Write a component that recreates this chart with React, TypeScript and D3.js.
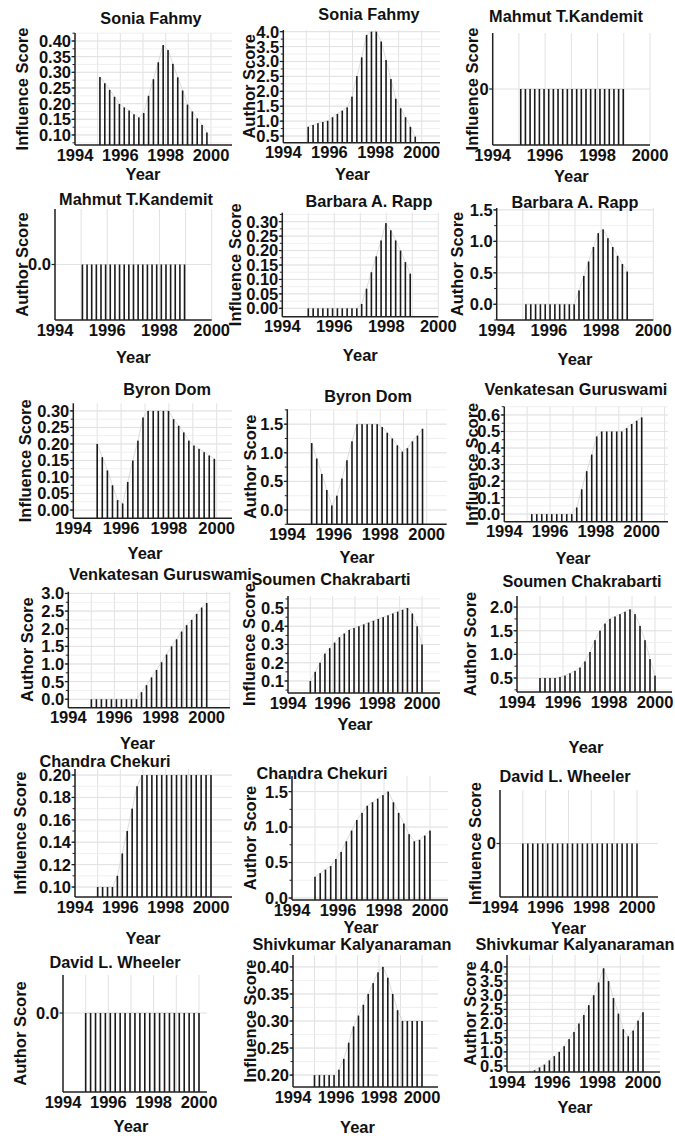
import * as d3 from "d3";

// bar values (one array per panel)
const soniaInfluence = [0.285, 0.265, 0.244, 0.222, 0.199, 0.188, 0.178, 0.166, 0.156, 0.17, 0.225, 0.278, 0.332, 0.387, 0.371, 0.327, 0.284, 0.242, 0.197, 0.175, 0.153, 0.132, 0.108];
const soniaAuthor = [0.81, 0.87, 0.93, 0.97, 1.01, 1.13, 1.24, 1.35, 1.46, 1.82, 2.51, 3.14, 3.89, 4.0, 4.0, 3.67, 3.05, 2.41, 1.75, 1.43, 1.13, 0.81, 0.48];
const mahmutInfluence = [0, 0, 0, 0, 0, 0, 0, 0, 0, 0, 0, 0, 0, 0, 0, 0, 0, 0, 0, 0, 0, 0, 0];
const mahmutAuthor = [0, 0, 0, 0, 0, 0, 0, 0, 0, 0, 0, 0, 0, 0, 0, 0, 0, 0, 0, 0, 0, 0, 0];
const barbaraInfluence = [0, 0, 0, 0, 0, 0, 0, 0, 0, 0, 0, 0.015, 0.068, 0.125, 0.18, 0.235, 0.295, 0.27, 0.235, 0.2, 0.16, 0.12];
const barbaraAuthor = [0, 0, 0, 0, 0, 0, 0, 0, 0, 0, 0, 0.22, 0.45, 0.68, 0.91, 1.13, 1.19, 1.05, 0.91, 0.77, 0.64, 0.52];
const byronInfluence = [0.2, 0.16, 0.12, 0.075, 0.03, 0.02, 0.085, 0.15, 0.21, 0.28, 0.3, 0.3, 0.3, 0.3, 0.3, 0.275, 0.255, 0.235, 0.21, 0.195, 0.185, 0.175, 0.165, 0.155];
const byronAuthor = [1.17, 0.9, 0.63, 0.35, 0.08, 0.25, 0.55, 0.87, 1.2, 1.5, 1.5, 1.5, 1.5, 1.5, 1.45, 1.35, 1.25, 1.13, 1.02, 1.08, 1.2, 1.3, 1.42];
const venkatInfluence = [0, 0, 0, 0, 0, 0, 0, 0, 0, 0.04, 0.15, 0.26, 0.36, 0.47, 0.5, 0.5, 0.5, 0.5, 0.5, 0.52, 0.545, 0.565, 0.585];
const venkatAuthor = [0, 0, 0, 0, 0, 0, 0, 0, 0, 0, 0.2, 0.4, 0.62, 0.83, 1.05, 1.27, 1.5, 1.7, 1.92, 2.1, 2.25, 2.42, 2.6, 2.73];
const soumenInfluence = [0.1, 0.15, 0.2, 0.25, 0.28, 0.31, 0.34, 0.36, 0.38, 0.39, 0.4, 0.41, 0.42, 0.43, 0.44, 0.45, 0.46, 0.47, 0.48, 0.49, 0.5, 0.47, 0.4, 0.3];
const soumenAuthor = [0.5, 0.5, 0.5, 0.5, 0.52, 0.55, 0.6, 0.65, 0.72, 0.85, 1.05, 1.3, 1.5, 1.65, 1.75, 1.8, 1.85, 1.9, 1.95, 1.85, 1.6, 1.3, 0.9, 0.55];
const chandraInfluence = [0.1, 0.1, 0.1, 0.1, 0.11, 0.13, 0.15, 0.17, 0.19, 0.2, 0.2, 0.2, 0.2, 0.2, 0.2, 0.2, 0.2, 0.2, 0.2, 0.2, 0.2, 0.2, 0.2, 0.2];
const chandraAuthor = [0.3, 0.35, 0.4, 0.45, 0.55, 0.65, 0.8, 0.95, 1.1, 1.2, 1.3, 1.35, 1.4, 1.45, 1.5, 1.35, 1.2, 1.05, 0.9, 0.8, 0.82, 0.88, 0.95];
const davidInfluence = [0, 0, 0, 0, 0, 0, 0, 0, 0, 0, 0, 0, 0, 0, 0, 0, 0, 0, 0, 0, 0, 0, 0, 0];
const davidAuthor = [0, 0, 0, 0, 0, 0, 0, 0, 0, 0, 0, 0, 0, 0, 0, 0, 0, 0, 0, 0, 0, 0, 0, 0];
const shivInfluence = [0.2, 0.2, 0.2, 0.2, 0.2, 0.21, 0.23, 0.26, 0.29, 0.31, 0.33, 0.35, 0.37, 0.39, 0.4, 0.38, 0.35, 0.32, 0.3, 0.3, 0.3, 0.3, 0.3];
const shivAuthor = [0.3, 0.35, 0.45, 0.55, 0.7, 0.85, 1.0, 1.2, 1.45, 1.7, 2.0, 2.3, 2.65, 3.0, 3.45, 3.95, 3.5, 2.9, 2.35, 1.8, 1.55, 1.75, 2.1, 2.4];

const yearTicks = [1994, 1996, 1998, 2000];

interface Panel {
    title: string,
    yLabel: string,
    values: number[],
    span: [number, number],      // first / last bar year
    box: { left: number, x2000: number, right: number, top: number, bottom: number },
    yDomain: [number, number],
    yTicks: number[],
    yMinor: number[],
    fmt: string,
    titlePos: [number, number],
    yLabelX: number,
    yearY: number,
}

const rng = (a: number, b: number, s: number) => d3.range(0, Math.round((b - a) / s) + 1).map(i => +(a + i * s).toFixed(4));

const panels: Panel[] = [
    { title: "Sonia Fahmy", yLabel: "Influence Score", values: soniaInfluence, span: [1995.1, 1999.82],
      box: { left: 75, x2000: 211, right: 232, top: 33, bottom: 145 }, yDomain: [0.068, 0.4255],
      yTicks: rng(0.1, 0.4, 0.05), yMinor: rng(0.075, 0.425, 0.025), fmt: ".2f", titlePos: [151, 24], yLabelX: 22, yearY: 180 },
    { title: "Sonia Fahmy", yLabel: "Author Score", values: soniaAuthor, span: [1995.08, 1999.72],
      box: { left: 283.3, x2000: 421.7, right: 440, top: 30, bottom: 142.7 }, yDomain: [0.276, 4.056],
      yTicks: rng(0.5, 4, 0.5), yMinor: rng(0.5, 4, 0.25), fmt: ".1f", titlePos: [369, 20], yLabelX: 249, yearY: 180 },
    { title: "Mahmut T.Kandemit", yLabel: "Influence Score", values: mahmutInfluence, span: [1995.07, 1998.98],
      box: { left: 492.7, x2000: 650, right: 650, top: 33, bottom: 145 }, yDomain: [-1, 1],
      yTicks: [0], yMinor: [], fmt: "d", titlePos: [566, 22], yLabelX: 472, yearY: 182 },
    { title: "Mahmut T.Kandemit", yLabel: "Author Score", values: mahmutAuthor, span: [1995.05, 1998.96],
      box: { left: 55, x2000: 211.7, right: 211.7, top: 209, bottom: 320 }, yDomain: [-1, 1],
      yTicks: [0], yMinor: [], fmt: ".1f", titlePos: [136, 205], yLabelX: 22, yearY: 363 },
    { title: "Barbara A. Rapp", yLabel: "Influence Score", values: barbaraInfluence, span: [1995.0, 1998.92],
      box: { left: 282.3, x2000: 438.3, right: 438.3, top: 212.7, bottom: 316.7 }, yDomain: [-0.029, 0.331],
      yTicks: rng(0, 0.3, 0.05), yMinor: rng(0, 0.325, 0.025), fmt: ".2f", titlePos: [369, 207], yLabelX: 235.5, yearY: 361 },
    { title: "Barbara A. Rapp", yLabel: "Author Score", values: barbaraAuthor, span: [1995.12, 1999.0],
      box: { left: 496.7, x2000: 653.3, right: 653.3, top: 208, bottom: 320 }, yDomain: [-0.25, 1.53],
      yTicks: rng(0, 1.5, 0.5), yMinor: rng(-0.25, 1.5, 0.25), fmt: ".1f", titlePos: [575, 208], yLabelX: 457.5, yearY: 365 },
    { title: "Byron Dom", yLabel: "Influence Score", values: byronInfluence, span: [1995.0, 1999.9],
      box: { left: 73.3, x2000: 216.7, right: 232, top: 403.3, bottom: 518.3 }, yDomain: [-0.025, 0.323],
      yTicks: rng(0, 0.3, 0.05), yMinor: rng(0, 0.3, 0.025), fmt: ".2f", titlePos: [167, 395], yLabelX: 25, yearY: 559 },
    { title: "Byron Dom", yLabel: "Author Score", values: byronAuthor, span: [1995.05, 1999.82],
      box: { left: 287.3, x2000: 426.7, right: 446.7, top: 409.3, bottom: 524.3 }, yDomain: [-0.25, 1.76],
      yTicks: rng(0, 1.5, 0.5), yMinor: rng(-0.25, 1.75, 0.25), fmt: ".1f", titlePos: [368, 401.7], yLabelX: 250, yearY: 563 },
    { title: "Venkatesan Guruswami", yLabel: "Influence Score", values: venkatInfluence, span: [1995.2, 2000.0],
      box: { left: 504.3, x2000: 641.7, right: 668, top: 406.7, bottom: 521.7 }, yDomain: [-0.046, 0.65],
      yTicks: rng(0, 0.6, 0.1), yMinor: rng(0, 0.65, 0.05), fmt: ".1f", titlePos: [576, 395], yLabelX: 472, yearY: 564 },
    { title: "Venkatesan Guruswami", yLabel: "Author Score", values: venkatAuthor, span: [1995.0, 2000.0],
      box: { left: 68.3, x2000: 206.7, right: 230, top: 591.7, bottom: 707.7 }, yDomain: [-0.24, 3.05],
      yTicks: rng(0, 3, 0.5), yMinor: rng(0, 3, 0.25), fmt: ".1f", titlePos: [160.5, 580], yLabelX: 27.5, yearY: 749 },
    { title: "Soumen Chakrabarti", yLabel: "Influence Score", values: soumenInfluence, span: [1995.0, 2000.0],
      box: { left: 288, x2000: 422, right: 440, top: 596, bottom: 693 }, yDomain: [0.034, 0.566],
      yTicks: rng(0.1, 0.5, 0.1), yMinor: rng(0.05, 0.55, 0.05), fmt: ".1f", titlePos: [331, 585], yLabelX: 249, yearY: 730 },
    { title: "Soumen Chakrabarti", yLabel: "Author Score", values: soumenAuthor, span: [1995.0, 2000.0],
      box: { left: 517, x2000: 655, right: 672, top: 596, bottom: 692 }, yDomain: [0.204, 2.234],
      yTicks: rng(0.5, 2, 0.5), yMinor: rng(0.25, 2.25, 0.25), fmt: ".1f", titlePos: [582, 587], yLabelX: 470, yearY: 753 },
    { title: "Chandra Chekuri", yLabel: "Influence Score", values: chandraInfluence, span: [1995.0, 2000.0],
      box: { left: 75, x2000: 211, right: 232, top: 769, bottom: 897 }, yDomain: [0.0911, 0.2054],
      yTicks: rng(0.1, 0.2, 0.02), yMinor: rng(0.1, 0.2, 0.01), fmt: ".2f", titlePos: [105, 767], yLabelX: 20, yearY: 944 },
    { title: "Chandra Chekuri", yLabel: "Author Score", values: chandraAuthor, span: [1995.0, 2000.0],
      box: { left: 292, x2000: 430, right: 448, top: 776, bottom: 900 }, yDomain: [-0.028, 1.72],
      yTicks: rng(0, 1.5, 0.5), yMinor: rng(0, 1.5, 0.25), fmt: ".1f", titlePos: [322, 779], yLabelX: 250, yearY: 933 },
    { title: "David L. Wheeler", yLabel: "Influence Score", values: davidInfluence, span: [1995.0, 2000.0],
      box: { left: 500, x2000: 637, right: 658, top: 790, bottom: 897 }, yDomain: [-1, 1],
      yTicks: [0], yMinor: [], fmt: "d", titlePos: [565, 782], yLabelX: 475, yearY: 934 },
    { title: "David L. Wheeler", yLabel: "Author Score", values: davidAuthor, span: [1995.0, 2000.0],
      box: { left: 63, x2000: 199, right: 207, top: 975, bottom: 1092 }, yDomain: [-1.35, 0.65],
      yTicks: [0], yMinor: [], fmt: ".1f", titlePos: [115, 968], yLabelX: 20, yearY: 1132 },
    { title: "Shivkumar Kalyanaraman", yLabel: "Influence Score", values: shivInfluence, span: [1995.0, 2000.0],
      box: { left: 293, x2000: 422, right: 438, top: 955, bottom: 1087 }, yDomain: [0.178, 0.422],
      yTicks: rng(0.2, 0.4, 0.05), yMinor: rng(0.2, 0.4, 0.025), fmt: ".2f", titlePos: [352, 950], yLabelX: 250, yearY: 1133 },
    { title: "Shivkumar Kalyanaraman", yLabel: "Author Score", values: shivAuthor, span: [1995.0, 2000.0],
      box: { left: 507, x2000: 643, right: 660, top: 955, bottom: 1072 }, yDomain: [0.29, 4.42],
      yTicks: rng(0.5, 4, 0.5), yMinor: rng(0.5, 4, 0.25), fmt: ".1f", titlePos: [575, 950], yLabelX: 470, yearY: 1113 },
];

const font = "'Liberation Sans', Arial, Helvetica, sans-serif";

const PanelChart = ({ p }: { p: Panel }) => {
    const { left, x2000, right, top, bottom } = p.box;
    const x = d3.scaleLinear().domain([1994, 2000]).range([left, x2000]);
    const y = d3.scaleLinear().domain(p.yDomain).range([bottom, top]);
    const xEnd = x.invert(right);
    const years = d3.range(1994, Math.floor(xEnd + 1e-6) + 1);
    const step = (p.span[1] - p.span[0]) / (p.values.length - 1);
    const pts = p.values.map((v, i) => ({ t: p.span[0] + i * step, v }));
    const fmt = d3.format(p.fmt);
    const tops = d3.line<{ t: number, v: number }>().x(d => x(d.t)).y(d => y(Math.min(d.v, p.yDomain[1])));
    const inside = (v: number) => y(v) >= top - 0.5 && y(v) <= bottom + 0.5;

    return (
        <g>
            {/* grid */}
            {years.map(yr => (
                <line key={"gx" + yr} x1={x(yr)} x2={x(yr)} y1={top} y2={bottom} stroke="#e2e2e2" strokeWidth={1} />
            ))}
            {p.yMinor.filter(inside).map(v => (
                <line key={"gm" + v} x1={left} x2={right} y1={y(v)} y2={y(v)} stroke="#ececec" strokeWidth={0.8} />
            ))}
            {p.yTicks.map(v => (
                <line key={"gy" + v} x1={left} x2={right} y1={y(v)} y2={y(v)} stroke="#e2e2e2" strokeWidth={1} />
            ))}
            {/* faint line over bar tops */}
            <path d={tops(pts) ?? ""} fill="none" stroke="#cfcfcf" strokeWidth={0.7} />
            {/* bars */}
            {pts.map((d, i) => (
                <rect key={i} x={x(d.t) - 0.8} width={1.6} y={y(Math.min(d.v, p.yDomain[1]))}
                      height={bottom - y(Math.min(d.v, p.yDomain[1]))} fill="#1a1a1a" />
            ))}
            {/* axes */}
            <line x1={left} x2={left} y1={top} y2={bottom} stroke="#222" strokeWidth={1.5} />
            <line x1={left} x2={right} y1={bottom} y2={bottom} stroke="#222" strokeWidth={1.5} />
            {p.yMinor.filter(inside).map(v => (
                <line key={"tm" + v} x1={left - 2.5} x2={left} y1={y(v)} y2={y(v)} stroke="#222" strokeWidth={1} />
            ))}
            {p.yTicks.map(v => (
                <g key={"yt" + v}>
                    <line x1={left - 3.5} x2={left} y1={y(v)} y2={y(v)} stroke="#222" strokeWidth={1.2} />
                    <text x={left - 4} y={y(v)} dy="0.36em" textAnchor="end" fontSize={16.5} fontWeight="bold">{fmt(v)}</text>
                </g>
            ))}
            {yearTicks.map(yr => (
                <text key={"xt" + yr} x={x(yr)} y={bottom + 15.5} textAnchor="middle" fontSize={16.5} fontWeight="bold">{yr}</text>
            ))}
            {/* labels */}
            <text x={p.titlePos[0]} y={p.titlePos[1]} textAnchor="middle" fontSize={16.3} fontWeight="bold">{p.title}</text>
            <text transform={`translate(${p.yLabelX},${(top + bottom) / 2}) rotate(-90)`} dy="0.36em" textAnchor="middle"
                  fontSize={16.5} fontWeight="bold">{p.yLabel}</text>
            <text x={x(1997)} y={p.yearY} textAnchor="middle" fontSize={16.5} fontWeight="bold">Year</text>
        </g>
    );
};

const App = () => (
    <svg width={675} height={1136} style={{ position: "absolute", left: 0, top: 0, background: "#fff" }}
         fontFamily={font} fill="#111">
        <rect width={675} height={1136} fill="#fff" />
        {panels.map((p, i) => <PanelChart key={i} p={p} />)}
    </svg>
);

export default App;
